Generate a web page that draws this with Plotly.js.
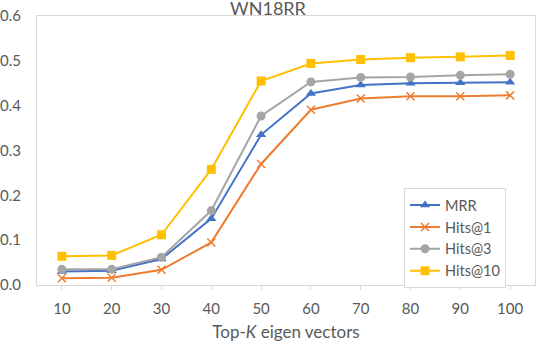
<!DOCTYPE html>
<html><head><meta charset="utf-8">
<script src="https://cdn.plot.ly/plotly-3.0.1.min.js"></script>
<style>html,body{margin:0;padding:0;background:#fff}#chart{width:536px;height:342px}</style>
</head><body><div id="chart"></div>
<script>
const kValues = [10, 20, 30, 40, 50, 60, 70, 80, 90, 100];
const mrr    = [0.030, 0.032, 0.058, 0.148, 0.335, 0.427, 0.446, 0.450, 0.451, 0.452];
const hits1  = [0.015, 0.016, 0.034, 0.095, 0.270, 0.391, 0.416, 0.421, 0.421, 0.423];
const hits3  = [0.035, 0.035, 0.062, 0.166, 0.377, 0.453, 0.463, 0.464, 0.468, 0.470];
const hits10 = [0.064, 0.066, 0.112, 0.258, 0.455, 0.494, 0.503, 0.507, 0.509, 0.512];
const seriesNames = ['MRR', 'Hits@1', 'Hits@3', 'Hits@10'];

const font = 'Lato, "Open Sans", sans-serif';
const grey = '#595959';
function tr(name, y, color, symbol, size, mline) {
  return {x: kValues, y: y, name: name, type: 'scatter', mode: 'lines+markers',
    line: {color: color, width: 2},
    marker: {color: color, symbol: symbol, size: size, line: {color: color, width: mline}}};
}
const data = [
  tr(seriesNames[0], mrr, '#4472C4', 'triangle-up', 9, 0),
  tr(seriesNames[1], hits1, '#ED7D31', 'x-thin', 8, 1.5),
  tr(seriesNames[2], hits3, '#A5A5A5', 'circle', 9, 0),
  tr(seriesNames[3], hits10, '#FFC000', 'square', 9, 0)
];
const layout = {
  width: 536, height: 342,
  margin: {l: 37, r: 1, t: 16, b: 57},
  paper_bgcolor: '#fff', plot_bgcolor: '#fff',
  font: {family: font, color: grey, size: 15},
  title: {text: 'WN18RR', font: {family: font, size: 18, color: grey},
    x: 0.5, xref: 'container', y: 1 - 9/342, yref: 'container', yanchor: 'middle', pad: {t: 0, b: 0}},
  xaxis: {range: [5, 105], tickvals: kValues, ticktext: kValues.map(String),
    showgrid: false, zeroline: false, showline: true, mirror: true, linecolor: '#d9d9d9', linewidth: 1,
    ticks: 'outside', ticklen: 4, tickcolor: '#d9d9d9',
    tickfont: {size: 15, color: grey}, ticklabelstandoff: 6,
    title: {text: 'Top-<i>K</i> eigen vectors', font: {size: 17, color: grey}, standoff: 10}},
  yaxis: {range: [0, 0.6], dtick: 0.1, tickformat: '.1f',
    showgrid: false, zeroline: false, showline: true, mirror: true, linecolor: '#d9d9d9', linewidth: 1,
    ticks: '', tickfont: {size: 15, color: grey}, ticklabelstandoff: 12},
  legend: {x: 0.737, xanchor: 'left', y: 0.36, yanchor: 'top',
    bordercolor: '#d9d9d9', borderwidth: 1, bgcolor: '#fff',
    font: {size: 14.5, color: grey}, tracegroupgap: 0, itemwidth: 30},
  showlegend: true
};
Plotly.newPlot('chart', data, layout, {displayModeBar: false, staticPlot: true});
</script></body></html>
